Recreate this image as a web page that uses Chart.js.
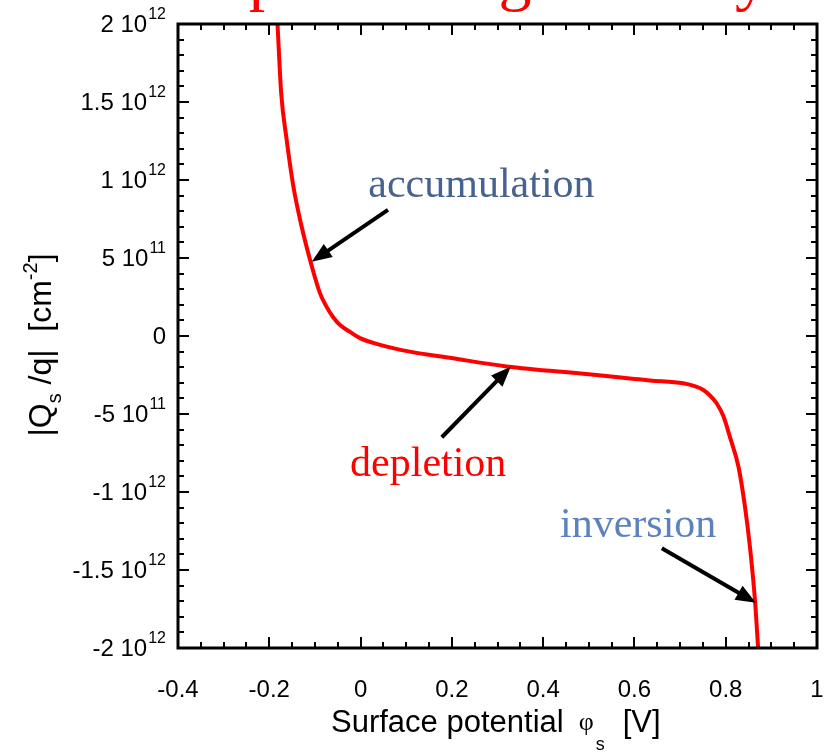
<!DOCTYPE html>
<html>
<head>
<meta charset="utf-8">
<script src="https://cdn.jsdelivr.net/npm/chart.js@4.4.1/dist/chart.umd.min.js"></script>
<style>
  html, body { margin: 0; padding: 0; background: #ffffff; }
  #wrap { width: 835px; height: 754px; position: relative; }
</style>
</head>
<body>
<div id="wrap"><canvas id="c" width="835" height="754"></canvas></div>
<script>
// ---- data ----
const surfacePotential = [-0.182, -0.174, -0.162, -0.147, -0.129, -0.109, -0.089, -0.075, -0.060, -0.045, -0.023, 0.0, 0.035, 0.108, 0.196, 0.32, 0.50, 0.60, 0.634, 0.707, 0.730, 0.751, 0.765, 0.780, 0.795, 0.809, 0.828, 0.842, 0.853, 0.864, 0.871];
const chargeDensity = [2.00e12, 1.56e12, 1.26e12, 0.955e12, 0.70e12, 0.47e12, 0.275e12, 0.19e12, 0.12e12, 0.07e12, 0.026e12, -0.015e12, -0.05e12, -0.10e12, -0.14e12, -0.195e12, -0.245e12, -0.275e12, -0.285e12, -0.303e12, -0.32e12, -0.346e12, -0.38e12, -0.431e12, -0.515e12, -0.645e12, -0.838e12, -1.09e12, -1.35e12, -1.69e12, -2.0e12];

const xTickValues = [-0.4, -0.2, 0, 0.2, 0.4, 0.6, 0.8, 1];
const xTickLabels = ["-0.4", "-0.2", "0", "0.2", "0.4", "0.6", "0.8", "1"];
const yTickValues = [2e12, 1.5e12, 1e12, 5e11, 0, -5e11, -1e12, -1.5e12, -2e12];
const yTickMantissa = ["2 10", "1.5 10", "1 10", "5 10", "0", "-5 10", "-1 10", "-1.5 10", "-2 10"];
const yTickExponent = ["12", "12", "12", "11", "", "11", "12", "12", "12"];

const titleText = "Space charge density";
const annotationLabels = ["accumulation", "depletion", "inversion"];
const annotationTextX = [0.017, -0.023, 0.437];
const annotationTextY = [0.89e12, -0.90e12, -1.29e12];
const arrowTailX = [0.060, 0.178, 0.660];
const arrowTailY = [0.808e12, -0.649e12, -1.36e12];
const arrowTipX = [-0.107, 0.329, 0.866];
const arrowTipY = [0.476e12, -0.197e12, -1.71e12];

// ---- drawing helpers ----
const annotationColors = ["#46628f", "#ff0000", "#5b82bf"];
const SANS = "'Liberation Sans', Arial, sans-serif";
const SERIF = "'Liberation Serif', 'Times New Roman', serif";

function drawArrow(ctx, x1, y1, x2, y2) {
  const ang = Math.atan2(y2 - y1, x2 - x1);
  const headLen = 20, headHalf = 8;
  const bx = x2 - headLen * Math.cos(ang), by = y2 - headLen * Math.sin(ang);
  ctx.save();
  ctx.strokeStyle = "#000"; ctx.fillStyle = "#000";
  ctx.lineWidth = 4; ctx.lineCap = "butt";
  ctx.beginPath(); ctx.moveTo(x1, y1); ctx.lineTo(bx + 2 * Math.cos(ang), by + 2 * Math.sin(ang)); ctx.stroke();
  ctx.beginPath();
  ctx.moveTo(x2, y2);
  ctx.lineTo(bx - headHalf * Math.sin(ang), by + headHalf * Math.cos(ang));
  ctx.lineTo(bx + headHalf * Math.sin(ang), by - headHalf * Math.cos(ang));
  ctx.closePath(); ctx.fill();
  ctx.restore();
}

const framePlugin = {
  id: "frame",
  afterDraw(chart) {
    const ctx = chart.ctx;
    const xs = chart.scales.x, ys = chart.scales.y;
    const a = chart.chartArea;
    ctx.save();
    // frame
    ctx.strokeStyle = "#000";
    ctx.lineWidth = 3;
    ctx.strokeRect(a.left, a.top, a.right - a.left, a.bottom - a.top);
    // ticks
    ctx.lineWidth = 2;
    const major = 11, minor = 6;
    for (let i = 0; i <= 28; i++) {
      const v = -0.4 + i * 0.05;
      const px = Math.round(xs.getPixelForValue(v));
      const len = (i % 4 === 0) ? major : minor;
      ctx.beginPath();
      ctx.moveTo(px, a.bottom); ctx.lineTo(px, a.bottom - len);
      ctx.moveTo(px, a.top); ctx.lineTo(px, a.top + len);
      ctx.stroke();
    }
    for (let i = 0; i <= 40; i++) {
      const v = -2e12 + i * 1e11;
      const py = Math.round(ys.getPixelForValue(v));
      const len = (i % 5 === 0) ? major : minor;
      ctx.beginPath();
      ctx.moveTo(a.left, py); ctx.lineTo(a.left + len, py);
      ctx.moveTo(a.right, py); ctx.lineTo(a.right - len, py);
      ctx.stroke();
    }
    // x tick labels
    ctx.fillStyle = "#000";
    ctx.font = "24px " + SANS;
    ctx.textAlign = "center"; ctx.textBaseline = "middle";
    xTickValues.forEach((v, i) => {
      ctx.fillText(xTickLabels[i], xs.getPixelForValue(v), a.bottom + 42);
    });
    // y tick labels with superscript exponent
    const rightEdge = a.left - 12;
    yTickValues.forEach((v, i) => {
      const py = ys.getPixelForValue(v);
      ctx.textBaseline = "middle"; ctx.textAlign = "right";
      let x = rightEdge;
      if (yTickExponent[i]) {
        ctx.font = "16px " + SANS;
        ctx.fillText(yTickExponent[i], x, py - 9);
        x -= ctx.measureText(yTickExponent[i]).width + 1;
      }
      ctx.font = "24px " + SANS;
      ctx.fillText(yTickMantissa[i], x, py + 1);
    });
    // x axis title
    ctx.textAlign = "left"; ctx.textBaseline = "alphabetic";
    let cx = 331;
    ctx.font = "31px " + SANS;
    ctx.fillText("Surface potential", cx, 732);
    cx += ctx.measureText("Surface potential").width + 15;
    ctx.font = "26px " + SERIF;
    ctx.fillText("\u03c6", cx, 730);
    cx += ctx.measureText("\u03c6").width + 2;
    ctx.font = "18px " + SANS;
    ctx.fillText("s", cx, 750);
    cx += ctx.measureText("s").width + 18;
    ctx.font = "31px " + SANS;
    ctx.fillText("[V]", cx, 732);
    // y axis title (rotated)
    ctx.save();
    ctx.translate(51, 345);
    ctx.rotate(-Math.PI / 2);
    const yparts = [
      { t: "|Q", f: "32px " + SANS, dy: 0 },
      { t: "s", f: "20px " + SANS, dy: 10 },
      { t: " /q|  [cm", f: "32px " + SANS, dy: 0 },
      { t: "-2", f: "20px " + SANS, dy: -14 },
      { t: "]", f: "32px " + SANS, dy: 0 }
    ];
    let yt = 0;
    yparts.forEach(p => { ctx.font = p.f; p.w = ctx.measureText(p.t).width; yt += p.w; });
    let yx = -yt / 2;
    yparts.forEach(p => { ctx.font = p.f; ctx.fillText(p.t, yx, p.dy); yx += p.w; });
    ctx.restore();
    // annotations
    ctx.font = "42px " + SERIF;
    ctx.textAlign = "left"; ctx.textBaseline = "alphabetic";
    annotationLabels.forEach((t, i) => {
      ctx.fillStyle = annotationColors[i];
      ctx.fillText(t, xs.getPixelForValue(annotationTextX[i]), ys.getPixelForValue(annotationTextY[i]));
    });
    annotationLabels.forEach((t, i) => {
      drawArrow(ctx,
        xs.getPixelForValue(arrowTailX[i]), ys.getPixelForValue(arrowTailY[i]),
        xs.getPixelForValue(arrowTipX[i]), ys.getPixelForValue(arrowTipY[i]));
    });
    // title (cut off at the top edge)
    ctx.fillStyle = "#ff0000";
    ctx.font = "66px " + SERIF;
    ctx.textBaseline = "alphabetic";
    ctx.fillText(titleText, 212, -2);
    ctx.restore();
  }
};

new Chart(document.getElementById("c"), {
  type: "line",
  data: {
    datasets: [{
      data: surfacePotential.map((x, i) => ({ x: x, y: chargeDensity[i] })),
      borderColor: "#ff0000",
      borderWidth: 4,
      pointRadius: 0,
      fill: false,
      cubicInterpolationMode: "monotone",
      clip: 2
    }]
  },
  options: {
    responsive: false,
    animation: false,
    layout: { padding: { left: 178, right: 18, top: 24, bottom: 106 } },
    plugins: { legend: { display: false }, tooltip: { enabled: false } },
    scales: {
      x: { type: "linear", min: -0.4, max: 1, display: false },
      y: { type: "linear", min: -2e12, max: 2e12, display: false }
    }
  },
  plugins: [framePlugin]
});
</script>
</body>
</html>
